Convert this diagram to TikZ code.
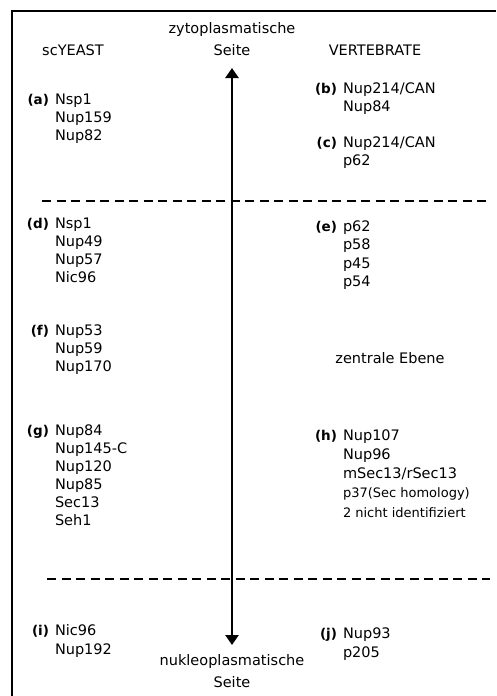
\documentclass[tikz,border=0pt]{standalone}
\usepackage{fontspec}
\setmainfont{DejaVu Sans}
\usetikzlibrary{arrows.meta}
\newcommand\myblock[6]{%
  \node[lbl] (#1L) at (#3-6, #4+5) {#2};
  \foreach \t [count=\i from 0] in {#5} {
    \node[lst] (#1\i) at (#3, #4+5+\i*#6) {\t};
  }
}
\begin{document}
\begin{tikzpicture}[x=1pt,y=-1pt,
  every node/.style={inner sep=0pt, outer sep=0pt},
  hdr/.style={font=\fontsize{14.5}{17}\selectfont, anchor=base},
  lst/.style={font=\fontsize{14.5}{17}\selectfont, anchor=base west},
  sml/.style={font=\fontsize{13}{15}\selectfont, anchor=base west},
  lbl/.style={font=\bfseries\fontsize{13.5}{15}\selectfont, anchor=base east},
  frame/.style={line width=1.8pt},
  sep/.style={line width=1.2pt, dash pattern=on 9pt off 5.5pt},
  axis/.style={line width=2.8pt, {Triangle[width=13pt,length=10pt]}-{Triangle[width=13pt,length=10pt]}}
]
\useasboundingbox (0,0) rectangle (496,696);

% frame
\coordinate (fbl) at (12,696);
\coordinate (ftl) at (12,11);
\coordinate (ftr) at (496,11);
\draw[frame] (fbl) -- (ftl) -- (ftr);

% dashed separators
\coordinate (s1l) at (42,201);
\coordinate (s1r) at (486,201);
\coordinate (s2l) at (47,579);
\coordinate (s2r) at (490,579);
\draw[sep] (s1l) -- (s1r);
\draw[sep] (s2l) -- (s2r);

% headers
\node[hdr] (zyt1) at (232,33) {zytoplasmatische};
\node[hdr] (zyt2) at (232,55) {Seite};
\node[hdr] (yeast) at (73,55) {scYEAST};
\node[hdr] (vert) at (375,55) {VERTEBRATE};
\node[hdr] (zentr) at (390,363) {zentrale Ebene};
\node[hdr] (nuk1) at (232,665) {nukleoplasmatische};
\node[hdr] (nuk2) at (232,687) {Seite};

% axis arrow
\coordinate (atop) at (232,68);
\coordinate (abot) at (232,645);
\draw[axis] (atop) -- (abot);

% blocks
\myblock{a}{(a)}{55}{99}{Nsp1,Nup159,Nup82}{18}
\myblock{b}{(b)}{343}{88}{Nup214/CAN,Nup84}{18}
\myblock{c}{(c)}{343}{142}{Nup214/CAN,p62}{18}
\myblock{d}{(d)}{55}{223}{Nsp1,Nup49,Nup57,Nic96}{18}
\myblock{e}{(e)}{343}{226}{p62,p58,p45,p54}{18.5}
\myblock{f}{(f)}{55}{330}{Nup53,Nup59,Nup170}{18}
\myblock{g}{(g)}{55}{430}{Nup84,Nup145-C,Nup120,Nup85,Sec13,Seh1}{18}
\myblock{i}{(i)}{55}{630}{Nic96,Nup192}{19}
\myblock{j}{(j)}{343}{633}{Nup93,p205}{19}

% block h
\node[lbl] (hL) at (337,440) {(h)};
\node[lst] (h0) at (343,440) {Nup107};
\node[lst] (h1) at (343,459) {Nup96};
\node[lst] (h2) at (343,478) {mSec13/rSec13};
\node[sml] (h3) at (343,497) {p37(Sec homology)};
\node[sml] (h4) at (343,517) {2 nicht identifiziert};
\end{tikzpicture}
\end{document}
